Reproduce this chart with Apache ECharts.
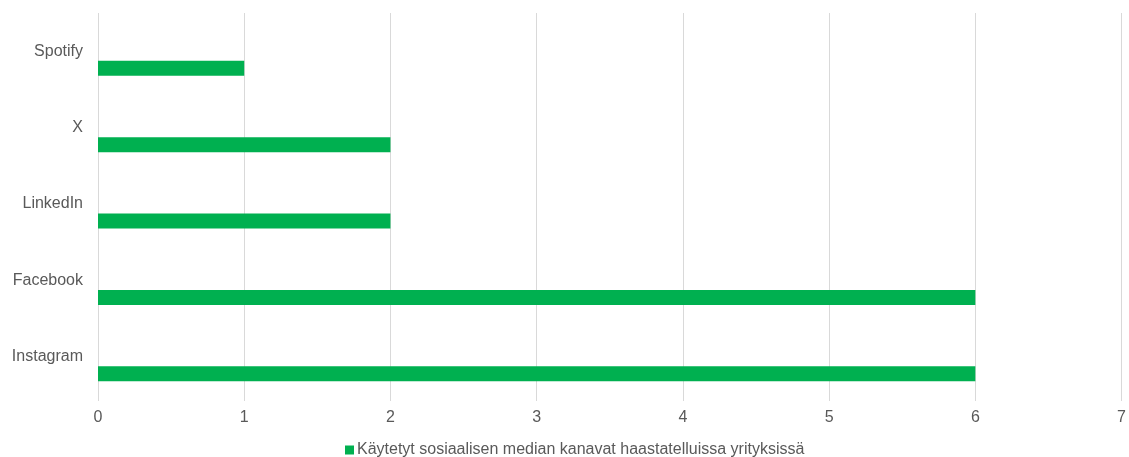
<!DOCTYPE html>
<html><head><meta charset="utf-8">
<script src="https://cdn.jsdelivr.net/npm/echarts@6/dist/echarts.min.js"></script>
<style>html,body{margin:0;padding:0;background:#fff}#c{width:1129px;height:457px}</style>
</head><body><div id="c"></div>
<script>
const categories = ['Instagram', 'Facebook', 'LinkedIn', 'X', 'Spotify'];
const values = [6, 6, 2, 2, 1];
const seriesName = 'Käytetyt sosiaalisen median kanavat haastatelluissa yrityksissä';
const xTicks = [0, 1, 2, 3, 4, 5, 6, 7];

const font = 'Liberation Sans, Arial, sans-serif';
const chart = echarts.init(document.getElementById('c'));
chart.setOption({
  animation: false,
  grid: { left: 98, right: 6, top: 13, bottom: 62, containLabel: false },
  legend: {
    data: [seriesName], left: 345, top: 442, padding: 0, icon: 'rect', itemWidth: 9, itemHeight: 9, itemGap: 10,
    textStyle: { color: '#595959', fontSize: 16, fontFamily: font, padding: [0, 0, 0, -2] }
  },
  xAxis: {
    type: 'value', min: xTicks[0], max: xTicks[xTicks.length - 1], interval: 1,
    axisLine: { show: false },
    axisTick: { show: true, length: 6, lineStyle: { color: '#d9d9d9' } },
    splitLine: { show: true, lineStyle: { color: '#d9d9d9', width: 1 } },
    axisLabel: { color: '#595959', fontSize: 16, fontFamily: font, margin: 15 }
  },
  yAxis: {
    type: 'category', data: categories,
    axisLine: { show: false }, axisTick: { show: false },
    axisLabel: { color: '#595959', fontSize: 16, fontFamily: font, margin: 15, padding: [4, 0, 0, 0] }
  },
  series: [
    { name: 'spacer', type: 'bar', data: categories.map(() => null), barWidth: 15, barGap: '127%', itemStyle: { color: 'transparent' } },
    { name: seriesName, type: 'bar', data: values, barWidth: 15, barGap: '127%', itemStyle: { color: '#00B050' } }
  ]
});
</script></body></html>
